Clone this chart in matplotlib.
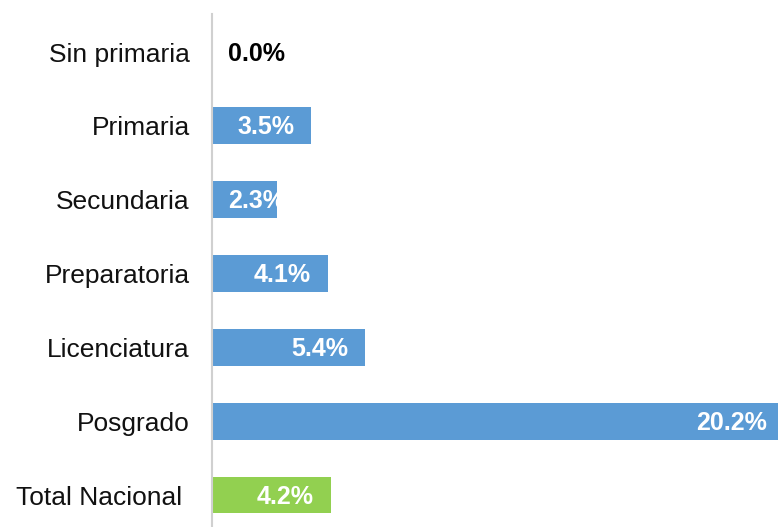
import matplotlib
matplotlib.use("Agg")
import matplotlib.pyplot as plt
from matplotlib.transforms import offset_copy

categories = ["Sin primaria", "Primaria", "Secundaria", "Preparatoria",
              "Licenciatura", "Posgrado", "Total Nacional "]
values = [0.0, 3.5, 2.3, 4.1, 5.4, 20.2, 4.2]
value_labels = ["0.0%", "3.5%", "2.3%", "4.1%", "5.4%", "20.2%", "4.2%"]
colors = ["#5B9BD5"] * 6 + ["#92D050"]

plt.rcParams['font.family'] = ['Liberation Sans', 'DejaVu Sans']

W, H = 778, 527
fig = plt.figure(figsize=(W / 100, H / 100), dpi=100)
ax_left = 212 / W
ax_top = 14 / H
ax = fig.add_axes([ax_left, 0, 1 - ax_left, 1 - ax_top])

y = list(range(len(categories)))
ax.barh(y, values, height=0.5, color=colors, zorder=2)

ax.set_xlim(0, 19.99)
ax.set_ylim(6.433, -0.515)

px_per_unit = (W - 212) / 19.99
trans = offset_copy(ax.transData, fig=fig, x=0, y=-1.5, units="dots")
for yi, v, lab in zip(y, values, value_labels):
    tcolor = "black" if v == 0 else "white"
    right = v - 17 / px_per_unit
    t = ax.text(right, yi, lab, ha="right", va="center", fontsize=18,
                fontweight="bold", color=tcolor, zorder=3, clip_on=True,
                transform=trans)
    fig.canvas.draw()
    bb = t.get_window_extent(renderer=fig.canvas.get_renderer())
    width_units = bb.width / px_per_unit
    min_left = 16 / px_per_unit
    if right - width_units < min_left:
        t.set_x(min_left)
        t.set_ha("left")

ax.set_yticks(y)
ax.set_yticklabels(categories, fontsize=19, color="#111111")
ax.tick_params(axis="y", length=0, pad=16)
ax.set_xticks([])
for s in ["top", "right", "bottom"]:
    ax.spines[s].set_visible(False)
ax.spines["left"].set_color("#d0d0d0")
ax.spines["left"].set_linewidth(1.5)

fig.savefig("out.png", dpi=100)
